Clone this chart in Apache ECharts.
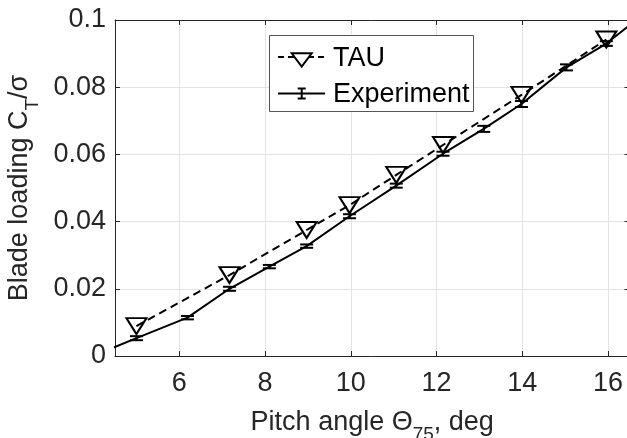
<!DOCTYPE html>
<html><head><meta charset="utf-8">
<script src="https://cdn.jsdelivr.net/npm/echarts@6/dist/echarts.min.js"></script>
<style>html,body{margin:0;padding:0;background:#fff}#c{width:627px;height:438px}</style>
</head><body><div id="c"></div>
<script>
// Experiment (first and last points lie outside the visible axis range; the line runs off the plot edges)
const expX   = [4.0, 5.0, 6.19, 7.17, 8.1, 8.97, 9.97, 11.06, 12.15, 13.1, 13.98, 15.03, 15.96, 17.0];
const expY   = [0.0001, 0.0053, 0.0114, 0.0200, 0.0266, 0.0327, 0.0416, 0.0507, 0.0602, 0.0676, 0.0750, 0.0859, 0.0930, 0.1035];
const expErr = [0, 0.0006, 0.0005, 0.0006, 0.0005, 0.0005, 0.0006, 0.0006, 0.0006, 0.0009, 0.0009, 0.0009, 0.0007, 0];
// TAU
const tauX = [5.0, 7.17, 8.97, 9.97, 11.06, 12.15, 13.98, 15.96];
const tauY = [0.0089, 0.0241, 0.0375, 0.0449, 0.0539, 0.0628, 0.0777, 0.0942];
// ticks
const xTicks = [6, 8, 10, 12, 14, 16];
const xRange = [4.5, 16.5];
const yRange = [0, 0.1];
const yStep = 0.02;
const legendNames = ['TAU', 'Experiment'];

const FONT = '"Liberation Sans", Arial, Helvetica, sans-serif';
const AX = '#262626';
const GRIDC = '#e3e3e3';

const chart = echarts.init(document.getElementById('c'), null, {renderer: 'canvas'});

const expData = expX.map((x, i) => [x, expY[i]]);
const errData = expX.map((x, i) => [x, expY[i], expErr[i]]);
const tauData = tauX.map((x, i) => [x, tauY[i]]);

const baseX = {
  type: 'value', min: xRange[0], max: xRange[1],
  axisLine: {onZero: false, lineStyle: {color: AX, width: 1}},
  axisTick: {inside: true, length: 5, customValues: xTicks, lineStyle: {color: AX}},
};
const baseY = {
  type: 'value', min: yRange[0], max: yRange[1], interval: yStep,
  axisLine: {onZero: false, lineStyle: {color: AX, width: 1}},
  axisTick: {inside: true, length: 5, lineStyle: {color: AX}},
};
const xNameStyle = {color: AX, fontSize: 27, fontFamily: FONT, lineHeight: 42,
  rich: {sub: {fontSize: 19, fontFamily: FONT, color: AX, lineHeight: 16, verticalAlign: 'bottom'}}};
const yNameStyle = {color: AX, fontSize: 27, fontFamily: FONT, lineHeight: 46,
  rich: {sub: {fontSize: 19, fontFamily: FONT, color: AX, lineHeight: 16, verticalAlign: 'bottom'}}};

const option = {
  animation: false,
  backgroundColor: '#fff',
  grid: {left: 115, top: 20, right: -2.5, bottom: 82, containLabel: false, outerBoundsMode: 'none'},
  xAxis: [
    Object.assign({}, baseX, {
      position: 'bottom',
      axisLabel: {customValues: xTicks, color: AX, fontSize: 27, fontFamily: FONT, margin: 14},
      splitLine: {show: true, lineStyle: {color: GRIDC, width: 1}},
      name: 'Pitch angle Θ{sub|75}, deg',
      nameLocation: 'middle', nameGap: 41,
      nameTextStyle: xNameStyle
    }),
    Object.assign({}, baseX, {position: 'top', axisLabel: {show: false}, splitLine: {show: false}})
  ],
  yAxis: [
    Object.assign({}, baseY, {
      position: 'left',
      axisLabel: {color: AX, fontSize: 27, fontFamily: FONT, margin: 9,
        formatter: v => v === 0 ? '0' : String(+v.toFixed(2))},
      splitLine: {show: true, lineStyle: {color: GRIDC, width: 1}},
      name: 'Blade loading C{sub|T}/σ',
      nameLocation: 'middle', nameGap: 71,
      nameTextStyle: yNameStyle
    }),
    Object.assign({}, baseY, {position: 'right', axisLabel: {show: false}, splitLine: {show: false}})
  ],
  series: [
    {
      name: legendNames[0], type: 'line', data: tauData, z: 2,
      xAxisIndex: 0, yAxisIndex: 0, silent: true, clip: true,
      lineStyle: {color: '#000', width: 2, type: [8, 5]},
      symbol: 'triangle', symbolRotate: 180, symbolSize: [20, 16], showAllSymbol: true,
      itemStyle: {color: 'rgba(255,255,255,0)', borderColor: '#000', borderWidth: 2}
    },
    {
      name: legendNames[1], type: 'line', data: expData, z: 3,
      xAxisIndex: 0, yAxisIndex: 0, silent: true, clip: true,
      lineStyle: {color: '#000', width: 2}, symbol: 'none'
    },
    {
      name: legendNames[1] + ' error', type: 'custom', data: errData, z: 4,
      xAxisIndex: 0, yAxisIndex: 0, silent: true, clip: true,
      encode: {x: 0, y: 1},
      renderItem: function (params, api) {
        const x = api.value(0), y = api.value(1), e = api.value(2);
        if (!e) return null;
        const t = api.coord([x, y + e]), b = api.coord([x, y - e]);
        const hw = 6.5;
        const st = {stroke: '#000', lineWidth: 2};
        return {type: 'group', children: [
          {type: 'line', shape: {x1: t[0], y1: t[1], x2: b[0], y2: b[1]}, style: st},
          {type: 'line', shape: {x1: t[0] - hw, y1: t[1], x2: t[0] + hw, y2: t[1]}, style: st},
          {type: 'line', shape: {x1: b[0] - hw, y1: b[1], x2: b[0] + hw, y2: b[1]}, style: st}
        ]};
      }
    }
  ],
  graphic: [
    {type: 'rect', z: 100, shape: {x: 269.5, y: 35.5, width: 204, height: 76},
      style: {fill: '#fff', stroke: '#555', lineWidth: 1}},
    {type: 'line', z: 101, shape: {x1: 278, y1: 57, x2: 325, y2: 57},
      style: {stroke: '#000', lineWidth: 2, lineDash: [6, 4]}},
    {type: 'polygon', z: 102, shape: {points: [[291.7, 53.3], [311.7, 53.3], [301.7, 66.7]]},
      style: {fill: '#fff', stroke: '#000', lineWidth: 2}},
    {type: 'text', z: 101, style: {text: legendNames[0], x: 333, y: 59, fontSize: 27, fontFamily: FONT,
      fill: '#000', verticalAlign: 'middle', textVerticalAlign: 'middle'}},
    {type: 'line', z: 101, shape: {x1: 278, y1: 93.5, x2: 325, y2: 93.5},
      style: {stroke: '#000', lineWidth: 2}},
    {type: 'line', z: 101, shape: {x1: 301.7, y1: 88.5, x2: 301.7, y2: 98.5},
      style: {stroke: '#000', lineWidth: 2}},
    {type: 'line', z: 101, shape: {x1: 297.7, y1: 88.5, x2: 305.7, y2: 88.5},
      style: {stroke: '#000', lineWidth: 2}},
    {type: 'line', z: 101, shape: {x1: 297.7, y1: 98.5, x2: 305.7, y2: 98.5},
      style: {stroke: '#000', lineWidth: 2}},
    {type: 'text', z: 101, style: {text: legendNames[1], x: 333, y: 95, fontSize: 27, fontFamily: FONT,
      fill: '#000', verticalAlign: 'middle', textVerticalAlign: 'middle'}}
  ]
};
chart.setOption(option);
</script>
</body></html>
